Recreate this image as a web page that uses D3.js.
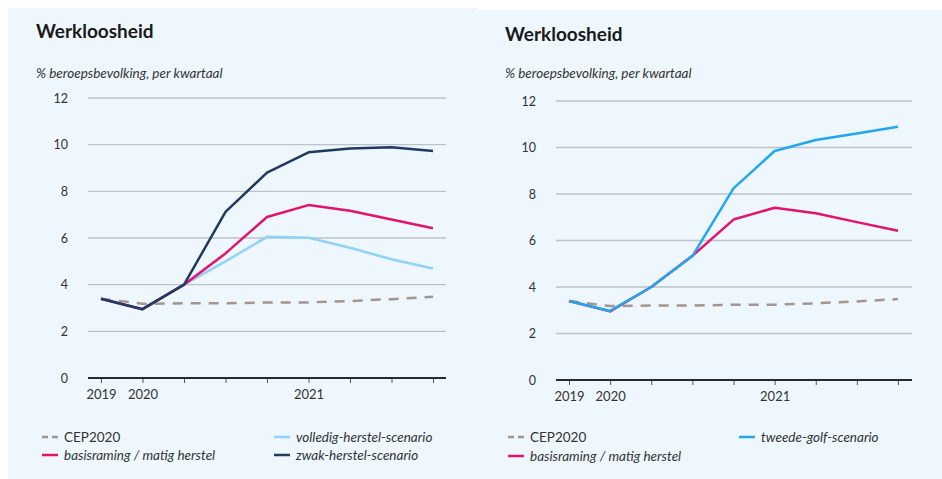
<!DOCTYPE html>
<html>
<head>
<meta charset="utf-8">
<script src="https://cdn.jsdelivr.net/npm/d3@7"></script>
<style>
  body { margin: 0; background: #fff; }
  svg { display: block; font-family: Lato, "Noto Sans", sans-serif; }
</style>
</head>
<body>
<div id="chart"></div>
<script>
const width = 942;
const height = 479;

// quarters 2019Q4 .. 2021Q4
const quarters = ["2019K4", "2020K1", "2020K2", "2020K3", "2020K4", "2021K1", "2021K2", "2021K3", "2021K4"];
const yearLabels = { "2019K4": "2019", "2020K1": "2020", "2021K1": "2021" };
const yTicks = [0, 2, 4, 6, 8, 10, 12];

const cep2020 = [3.4, 3.18, 3.2, 3.2, 3.24, 3.24, 3.3, 3.38, 3.48];
const basisraming = [3.4, 2.95, 4.0, 5.34, 6.9, 7.41, 7.17, 6.79, 6.42];
const volledigHerstel = [3.4, 2.95, 4.0, 5.0, 6.05, 6.01, 5.58, 5.09, 4.69];
const zwakHerstel = [3.4, 2.95, 4.0, 7.12, 8.8, 9.67, 9.84, 9.89, 9.73];
const tweedeGolf = [3.4, 2.97, 4.0, 5.33, 8.24, 9.85, 10.32, 10.6, 10.89];

const colors = {
    cep: "#a4958d",
    basis: "#e4126d",
    volledig: "#90d2f8",
    zwak: "#1d3a63",
    tweede: "#21a6f0"
};

const svg = d3.select("#chart").append("svg")
    .attr("width", width)
    .attr("height", height);

// panel backgrounds
svg.append("rect").attr("x", 8).attr("y", 8).attr("width", 470).attr("height", height - 8).attr("fill", "#eef7fe");
svg.append("rect").attr("x", 478).attr("y", 10).attr("width", width - 478).attr("height", height - 10).attr("fill", "#eef7fe");

const panels = [
    {
        left: 36, titleY: 38, subY: 78,
        xRange: [88, 446], plotX: [101, 433], yRange: [378, 98], labelX: 68, xLabelY: 403,
        series: [
            { name: "CEP2020", values: cep2020, color: colors.cep, dash: "10,8", italic: false },
            { name: "basisraming / matig herstel", values: basisraming, color: colors.basis, italic: true },
            { name: "volledig-herstel-scenario", values: volledigHerstel, color: colors.volledig, italic: true },
            { name: "zwak-herstel-scenario", values: zwakHerstel, color: colors.zwak, italic: true }
        ],
        drawOrder: [0, 2, 1, 3],
        legend: [
            { i: 0, x: 42, y: 437 }, { i: 1, x: 42, y: 455 },
            { i: 2, x: 274, y: 437 }, { i: 3, x: 274, y: 455 }
        ]
    },
    {
        left: 505, titleY: 41, subY: 78,
        xRange: [556, 912], plotX: [569, 898], yRange: [380, 101], labelX: 536, xLabelY: 405,
        series: [
            { name: "CEP2020", values: cep2020, color: colors.cep, dash: "10,8", italic: false },
            { name: "basisraming / matig herstel", values: basisraming, color: colors.basis, italic: true },
            { name: "tweede-golf-scenario", values: tweedeGolf, color: colors.tweede, italic: true }
        ],
        drawOrder: [0, 1, 2],
        legend: [
            { i: 0, x: 508, y: 437 }, { i: 1, x: 508, y: 456 },
            { i: 2, x: 739, y: 437 }
        ]
    }
];

panels.forEach(p => {
    const g = svg.append("g");

    g.append("text")
        .attr("x", p.left).attr("y", p.titleY)
        .attr("font-size", 19).attr("font-weight", "bold").attr("fill", "#1a1a1a")
        .text("Werkloosheid");

    g.append("text")
        .attr("x", p.left).attr("y", p.subY)
        .attr("font-size", 13.5).attr("font-style", "italic").attr("fill", "#333")
        .text("% beroepsbevolking, per kwartaal");

    const x = d3.scalePoint().domain(quarters).range(p.plotX);
    const y = d3.scaleLinear().domain([0, 12]).range(p.yRange);

    // gridlines
    g.selectAll(".grid")
        .data(yTicks.filter(t => t > 0))
        .join("line")
        .attr("x1", p.xRange[0]).attr("x2", p.xRange[1])
        .attr("y1", d => y(d)).attr("y2", d => y(d))
        .attr("stroke", "#bcc2c7").attr("stroke-width", 1.3);

    // y labels
    g.selectAll(".ylab")
        .data(yTicks)
        .join("text")
        .attr("x", p.labelX).attr("y", d => y(d) + 4.5)
        .attr("text-anchor", "end")
        .attr("font-size", 12.5).attr("fill", "#333")
        .text(d => d);

    // x axis
    const xAxis = g.append("g")
        .attr("transform", `translate(0,${y(0)})`)
        .call(d3.axisBottom(x).tickSize(5).tickFormat(d => yearLabels[d] || ""));
    xAxis.select(".domain").remove();
    xAxis.selectAll(".tick line").attr("stroke", "#555").attr("stroke-width", 1);
    xAxis.selectAll(".tick text")
        .attr("y", p.xLabelY - y(0) - 4)
        .attr("dy", 0)
        .attr("font-family", "Lato, sans-serif")
        .attr("font-size", 13).attr("fill", "#333");

    g.append("line")
        .attr("x1", p.xRange[0]).attr("x2", p.xRange[1])
        .attr("y1", y(0)).attr("y2", y(0))
        .attr("stroke", "#2a2a2a").attr("stroke-width", 2);

    const line = d3.line()
        .x((d, i) => x(quarters[i]))
        .y(d => y(d));

    p.drawOrder.forEach(k => {
        const s = p.series[k];
        g.append("path")
            .datum(s.values)
            .attr("fill", "none")
            .attr("stroke", s.color)
            .attr("stroke-width", 2.5)
            .attr("stroke-dasharray", s.dash || null)
            .attr("stroke-linejoin", "round")
            .attr("d", line);
    });

    // legend
    p.legend.forEach(l => {
        const s = p.series[l.i];
        g.append("line")
            .attr("x1", l.x).attr("x2", l.x + 16)
            .attr("y1", l.y).attr("y2", l.y)
            .attr("stroke", s.color).attr("stroke-width", 2.5)
            .attr("stroke-dasharray", s.dash ? "6,4" : null);
        g.append("text")
            .attr("x", l.x + 22).attr("y", l.y + 4.5)
            .attr("font-size", 13.5)
            .attr("font-style", s.italic ? "italic" : "normal")
            .attr("fill", "#333")
            .text(s.name);
    });
});
</script>
</body>
</html>
